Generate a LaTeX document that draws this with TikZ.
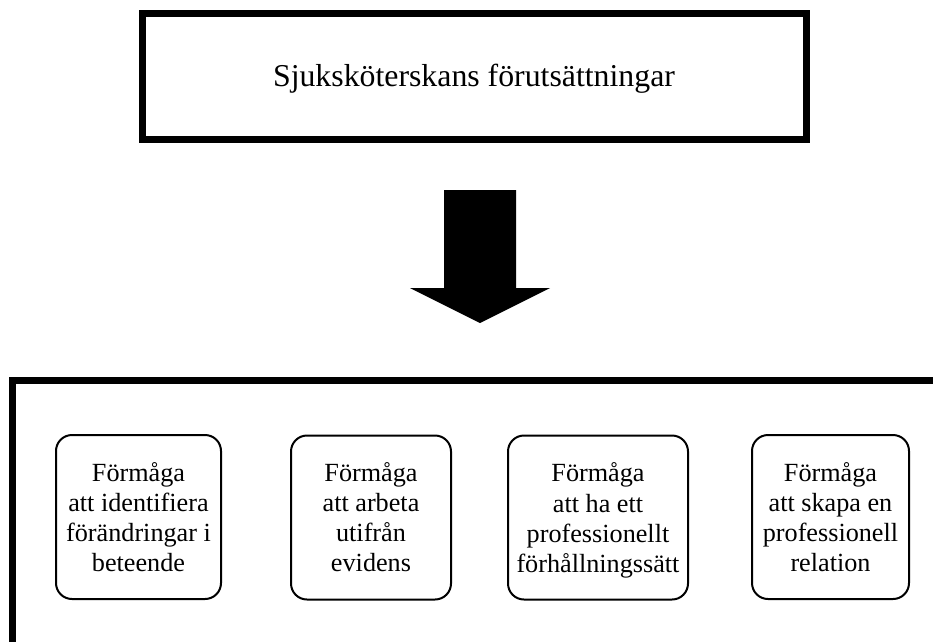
\documentclass[tikz,border=0pt]{standalone}
\usepackage{fontspec}
\setmainfont{Liberation Serif}
\begin{document}
\begin{tikzpicture}[x=1pt,y=-1pt,
  topbox/.style={draw=black,line width=7pt,minimum width=664pt,minimum height=125.5pt,inner sep=0pt,
    text height=22pt,text depth=1pt,font=\fontsize{31.8}{37}\selectfont},
  skill/.style={draw=black,line width=2pt,rounded corners=16pt,minimum height=164pt,inner sep=0pt,
    align=center,font=\fontsize{26.2}{30}\selectfont},
  bigframe/.style={draw=black,line width=7pt},
  bigarrow/.style={fill=black}]
\useasboundingbox (0,0) rectangle (933,641);
\node[topbox] (top) at (474,76.25) {Sjuksköterskans förutsättningar};
% big arrow
\coordinate (atop) at (480,190);
\coordinate (atip) at (480,323);
\fill[bigarrow] (444,190) -- (516,190) -- (516,288) -- (550,288) -- (atip) -- (410,288) -- (444,288) -- cycle;
% bottom frame (extends past the page)
\coordinate (fbl) at (12.5,660);
\coordinate (ftl) at (12.5,380.5);
\coordinate (ftr) at (960,380.5);
\draw[bigframe] (fbl) -- (ftl) -- (ftr);
% skill boxes
\node[skill,minimum width=165pt] (s1) at (138.5,517) {Förmåga\\att identifiera\\förändringar i\\beteende};
\node[skill,minimum width=160pt] (s2) at (371,517.5) {Förmåga\\att arbeta\hspace*{0.25em}\\utifrån\\evidens};
\node[skill,minimum width=180pt] (s3) at (598,517.5) {Förmåga\\att ha ett\hspace*{0.25em}\\professionellt\\\raisebox{0pt}[\height][0pt]{förhållningssätt}};
\node[skill,minimum width=157pt] (s4) at (830.5,517) {Förmåga\\att skapa en\\professionell\\relation};
\end{tikzpicture}
\end{document}
